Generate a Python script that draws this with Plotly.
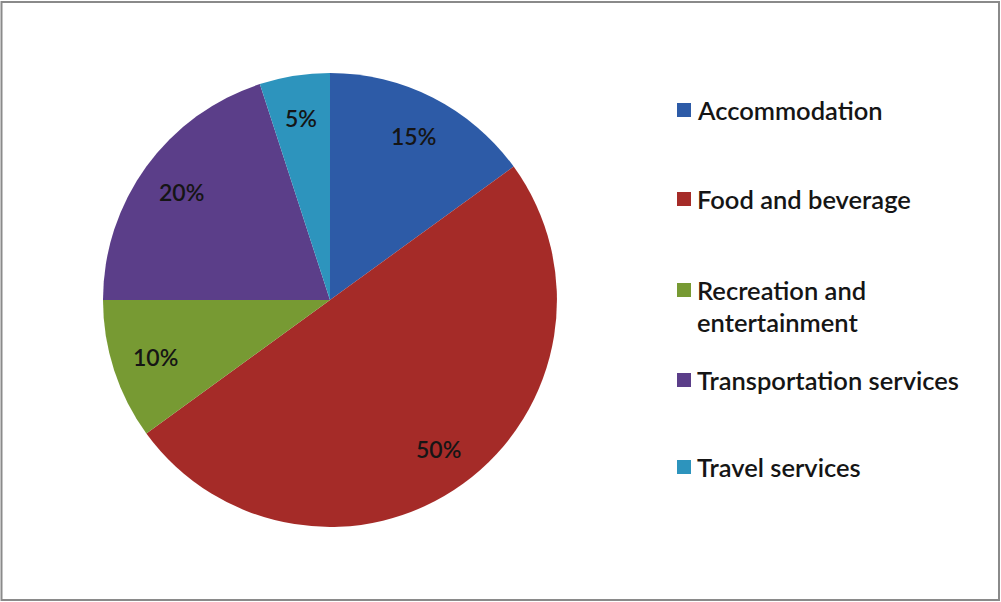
import math
import plotly.graph_objects as go

categories = ["Accommodation", "Food and beverage", "Recreation and entertainment",
              "Transportation services", "Travel services"]
legend_labels = ["Accommodation", "Food and beverage", "Recreation and<br>entertainment",
                 "Transportation services", "Travel services"]
shares = [15, 50, 10, 20, 5]
colors = ["#2D5BA7", "#A52B28", "#779A33", "#5B3E89", "#2D94BD"]

W, H = 1001, 602
FONT = "Lato, 'Open Sans', sans-serif"

# pie geometry in pixels
cx, cy, R = 330, 300, 227

fig = go.Figure(go.Pie(
    labels=categories,
    values=shares,
    sort=False,
    direction="clockwise",
    rotation=0,
    marker=dict(colors=colors, line=dict(width=0)),
    textinfo="none",
    hoverinfo="label+percent",
    showlegend=False,
    domain=dict(x=[(cx - R) / W, (cx + R) / W],
                y=[1 - (cy + R) / H, 1 - (cy - R) / H]),
))

annotations = []
shapes = []

# percentage labels placed along each slice's mid-angle
total = sum(shares)
start = 0.0
for v in shares:
    mid = (start + v / 2) / total * 2 * math.pi
    start += v
    r = 0.81 * R
    px = cx + r * math.sin(mid)
    py = cy - r * math.cos(mid)
    annotations.append(dict(
        x=px / W, y=1 - py / H, xref="paper", yref="paper",
        text=f"{v / total * 100:.0f}%", showarrow=False,
        font=dict(family=FONT, size=23, color="#151515", weight=600),
        xanchor="center", yanchor="middle",
    ))

# legend drawn beside the pie
legend_y = [110, 199, 290, 380, 467]
line_gap = 32
for lbl, col, ly in zip(legend_labels, colors, legend_y):
    shapes.append(dict(type="rect", xref="paper", yref="paper",
                       x0=677 / W, x1=691 / W,
                       y0=1 - (ly + 7) / H, y1=1 - (ly - 7) / H,
                       fillcolor=col, line=dict(width=0)))
    for i, part in enumerate(lbl.split("<br>")):
        annotations.append(dict(
            x=695 / W, y=1 - (ly + i * line_gap) / H, xref="paper", yref="paper",
            text=part, showarrow=False, align="left",
            font=dict(family=FONT, size=25.5, color="#151515", weight=600),
            xanchor="left", yanchor="middle",
        ))

# outer frame
shapes.append(dict(type="rect", xref="paper", yref="paper",
                   x0=1.5 / W, x1=999 / W, y0=1 - 600 / H, y1=1 - 2 / H,
                   line=dict(color="#8a8a8a", width=2), fillcolor="rgba(0,0,0,0)"))

fig.update_layout(
    width=W, height=H,
    margin=dict(l=0, r=0, t=0, b=0),
    paper_bgcolor="white",
    plot_bgcolor="white",
    annotations=annotations,
    shapes=shapes,
    showlegend=False,
)

fig.write_html("out.html")
